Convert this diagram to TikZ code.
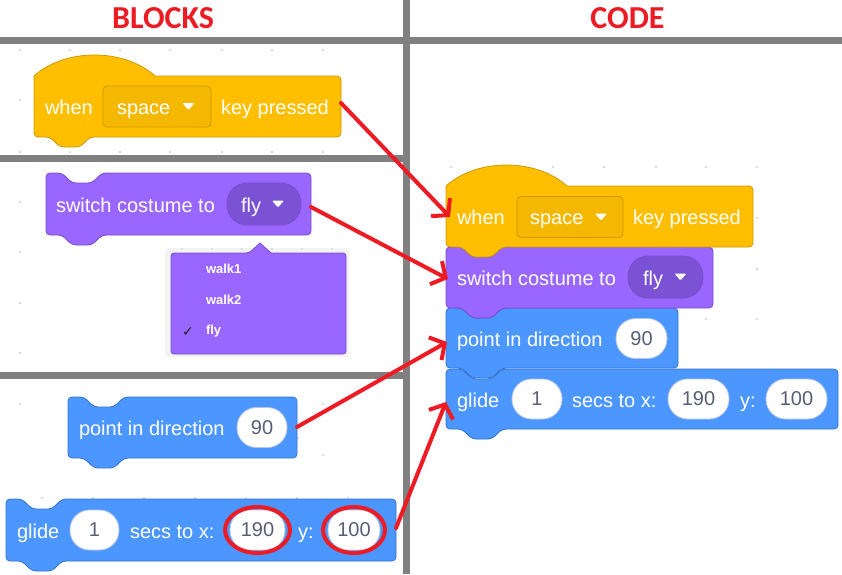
\documentclass[tikz,border=0pt]{standalone}
\usepackage{fontspec}
\setmainfont{Liberation Sans}
\newfontfamily\titlefont{Carlito}
\newfontfamily\symfont{DejaVu Sans}
\usetikzlibrary{arrows.meta}
\definecolor{evfill}{HTML}{FFBF00}
\definecolor{evdraw}{HTML}{CC9900}
\definecolor{evdd}{HTML}{F5B800}
\definecolor{lkfill}{HTML}{9966FF}
\definecolor{lkdraw}{HTML}{774DCB}
\definecolor{lkpill}{HTML}{7A52D3}
\definecolor{mofill}{HTML}{4C97FF}
\definecolor{modraw}{HTML}{3373CC}
\definecolor{numgray}{HTML}{575E75}
\definecolor{ovdraw}{HTML}{B8C6DC}
\definecolor{gridgray}{HTML}{808080}
\definecolor{mkred}{HTML}{ED1C24}
\definecolor{dotgray}{HTML}{D9D9D9}
\definecolor{shadowgray}{HTML}{F3F3F3}
\newcommand{\stackblk}[5]{%
  \draw[#5, rounded corners=4pt] (#1,#2) -- (#1+16,#2) -- (#1+26,#2+10) -- (#1+46,#2+10) -- (#1+56,#2) -- (#3,#2) -- (#3,#4) -- (#1+56,#4) -- (#1+46,#4+10) -- (#1+26,#4+10) -- (#1+16,#4) -- (#1,#4) -- cycle;}
\newcommand{\hatblk}[5]{%
  \draw[#5] (#1,#2) .. controls (#1+31,#2-28) and (#1+90,#2-28) .. (#1+121,#2) [rounded corners=4pt] -- (#3,#2) -- (#3,#4) -- (#1+56,#4) -- (#1+46,#4+10) -- (#1+26,#4+10) -- (#1+16,#4) -- (#1,#4) [sharp corners] -- cycle;}
\newcommand{\ddtri}[2]{\fill[white, rounded corners=1pt] (#1-6,#2-3.5) -- (#1+6,#2-3.5) -- (#1,#2+3.5) -- cycle;}
\begin{document}
\begin{tikzpicture}[x=1pt,y=-1pt,
  every node/.style={inner sep=0pt, outer sep=0pt},
  lbl/.style={text=white, font=\fontsize{20}{24}\selectfont, anchor=base west},
  oval/.style={draw=ovdraw, line width=0.8pt, fill=white, rounded corners=19.5pt, minimum height=40pt, text=numgray, font=\fontsize{20}{24}\selectfont},
  ddbox/.style={draw=evdraw, line width=0.8pt, fill=evdd, rounded corners=4pt, minimum height=41pt},
  pill/.style={draw=lkdraw, line width=0.8pt, fill=lkpill, rounded corners=20pt, minimum height=42pt},
  ev/.style={fill=evfill, draw=evdraw, line width=0.8pt},
  lk/.style={fill=lkfill, draw=lkdraw, line width=0.8pt},
  mo/.style={fill=mofill, draw=modraw, line width=0.8pt},
  title/.style={text=mkred, font=\titlefont\bfseries\fontsize{32}{36}\selectfont},
  menuitem/.style={text=white, font=\bfseries\fontsize{13}{15}\selectfont, anchor=base west},
  ring/.style={draw=mkred, line width=4pt},
  redarrow/.style={draw=mkred, line width=4pt, line cap=round, -{Straight Barb[length=11pt,width=26pt,line width=4pt]}},
  dot/.style={fill=dotgray}
]
\useasboundingbox[fill=white] (0,0) rectangle (842,574);

% faint workspace dots
\foreach \x in {20,70,120,170,222,272,323} {\fill[dot] (\x,50) circle (1.3pt); \fill[dot] (\x,152) circle (1.3pt);}
\fill[dot] (20,100) circle (1.3pt);
\foreach \y in {202,252,303,353} {\fill[dot] (20,\y) circle (1.3pt);}
\fill[dot] (20,404) circle (1.3pt); \fill[dot] (323,404) circle (1.3pt);
\fill[dot] (298,438) circle (1.3pt); \fill[dot] (323,455) circle (1.3pt);
\foreach \x in {42,93,144,195,246,297,348} {\fill[dot] (\x,498) circle (1.3pt);}
\foreach \x in {451,553,604,656,706,757} {\fill[dot] (\x,167) circle (1.3pt);}
\fill[dot] (757,218) circle (1.3pt); \fill[dot] (757,269) circle (1.3pt);
\fill[dot] (706,319) circle (1.3pt); \fill[dot] (757,319) circle (1.3pt);

% grid lines
\fill[gridgray] (403,0) rectangle (410,574);
\fill[gridgray] (0,37) rectangle (842,44);
\fill[gridgray] (0,155) rectangle (406,162);
\fill[gridgray] (0,372) rectangle (406,379);

% titles
\node[title] (tblocks) at (163,18) {BLOCKS};
\node[title] (tcode) at (627.5,18) {CODE};

% ---------- left: blocks ----------
\hatblk{34}{76}{341}{137}{ev}
\node[lbl] (whenL) at (45,114.5) {when};
\node[ddbox, minimum width=108pt] (spaceL) at (157,106.5) {};
\node[lbl] (spaceLt) at (117,114.5) {space};
\ddtri{188.5}{106.5}
\node[lbl] (keyL) at (221,114.5) {key pressed};

\stackblk{46}{173}{311}{235}{lk}
\node[lbl] (switchL) at (56,212) {switch costume to};
\node[pill, minimum width=74pt] (flyL) at (264,204) {};
\node[lbl] (flyLt) at (241,212) {fly};
\ddtri{278}{204}

% dropdown menu
\fill[shadowgray, rounded corners=3pt] (165,248) rectangle (349,357);
\foreach \x in {182,212,242,272,302,332} {\fill[dot] (\x,249) circle (1.1pt);}
\draw[fill=lkfill, draw=lkdraw, line width=0.8pt, rounded corners=3pt] (171,253) -- (249,253) [sharp corners] -- (260,243) -- (271,253) [rounded corners=3pt] -- (346,253) -- (346,354) -- (171,354) -- cycle;
\node[menuitem] (m1) at (206,273.5) {walk1};
\node[menuitem] (m2) at (206,304) {walk2};
\node[menuitem] (m3) at (206,334.5) {fly};
\node[anchor=base west, text=black!85, font=\symfont\fontsize{14}{16}\selectfont] (chk) at (182,336) {✓};

\stackblk{68}{397}{297}{458}{mo}
\node[lbl] (pointL) at (79,435.5) {point in direction};
\node[oval, minimum width=50pt] (dirL) at (262,427.5) {90};

\stackblk{6}{499}{396}{561}{mo}
\node[lbl] (glideL) at (17,538) {glide};
\node[oval, minimum width=49pt] (secL) at (94.5,530) {1};
\node[lbl] (secsL) at (130,538) {secs to x:};
\node[oval, minimum width=55pt] (xL) at (257.5,530) {190};
\node[lbl] (yL) at (298,538) {y:};
\node[oval, minimum width=52pt] (yvL) at (354,530) {100};
\draw[ring] (xL.center) ellipse [x radius=32.5, y radius=23];
\draw[ring] (yvL.center) ellipse [x radius=31, y radius=23];

% ---------- right: code ----------
\stackblk{446}{369}{838}{429}{mo}
\stackblk{446}{308}{678}{368}{mo}
\stackblk{446}{247}{713}{308}{lk}
\hatblk{446}{186}{753}{247}{ev}

\node[lbl] (whenR) at (457,224.5) {when};
\node[ddbox, minimum width=106pt] (spaceR) at (570,217) {};
\node[lbl] (spaceRt) at (530,224.5) {space};
\ddtri{601}{217}
\node[lbl] (keyR) at (633,224.5) {key pressed};

\node[lbl] (switchR) at (457,285.5) {switch costume to};
\node[pill, minimum width=75pt] (flyR) at (665.5,277) {};
\node[lbl] (flyRt) at (643,285.5) {fly};
\ddtri{680.5}{277}

\node[lbl] (pointR) at (457,346) {point in direction};
\node[oval, minimum width=51pt] (dirR) at (641.5,338.5) {90};

\node[lbl] (glideR) at (457,407) {glide};
\node[oval, minimum width=50pt] (secR) at (537,399) {1};
\node[lbl] (secsR) at (572,407) {secs to x:};
\node[oval, minimum width=61pt] (xR) at (698.5,399) {190};
\node[lbl] (yR) at (740,407) {y:};
\node[oval, minimum width=61pt] (yvR) at (796.5,399) {100};

% ---------- arrows ----------
\coordinate (hatOut) at (341,103);
\coordinate (hatIn) at (450,217);
\coordinate (lkOut) at (311,207);
\coordinate (lkIn) at (448,279);
\coordinate (ptOut) at (297,427);
\coordinate (ptIn) at (447,342);
\coordinate (glOut) at (396,528);
\coordinate (glIn) at (446,402);
\draw[redarrow] (hatOut) -- (hatIn);
\draw[redarrow] (lkOut) -- (lkIn);
\draw[redarrow] (ptOut) -- (ptIn);
\draw[redarrow] (glOut) -- (glIn);
\end{tikzpicture}
\end{document}
